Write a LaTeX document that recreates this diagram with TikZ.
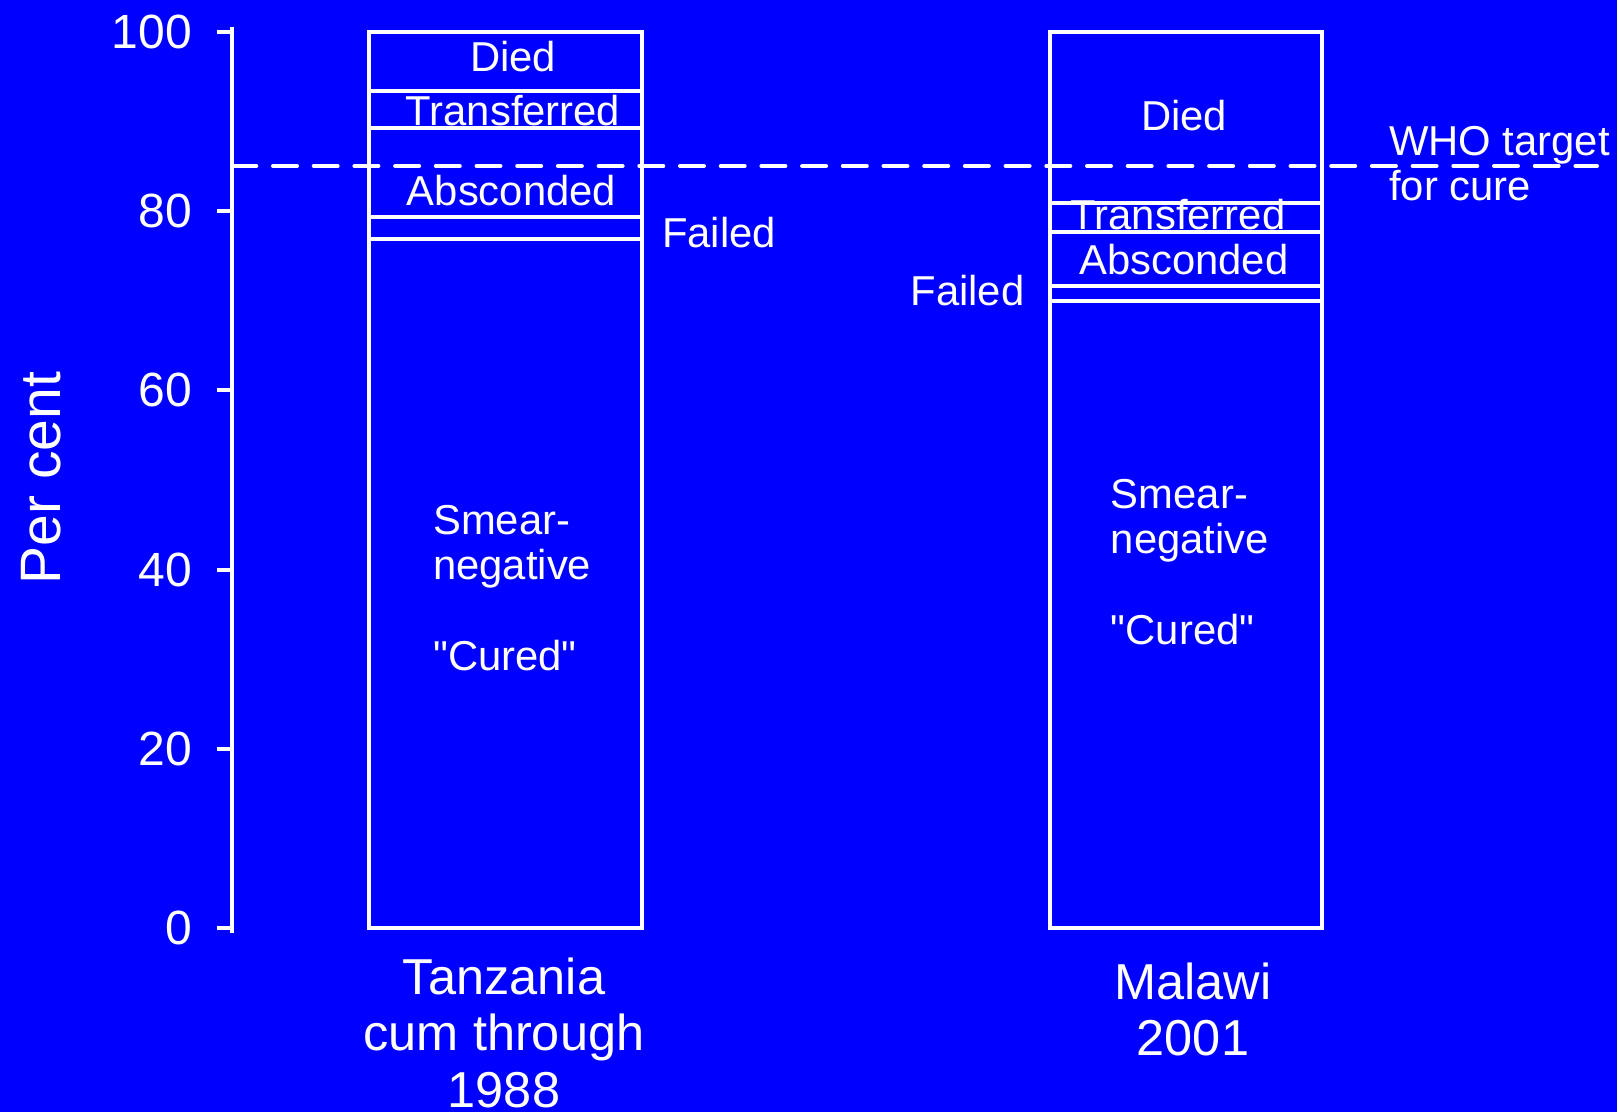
\documentclass[tikz,border=0pt]{standalone}
\usepackage{fontspec}
\newfontfamily\plainsans{Liberation Sans}
\definecolor{bg}{RGB}{0,0,255}
\newcommand\stackL[1]{\vtop{\halign{##\hfil\cr#1\crcr}}}
\newcommand\stackC[1]{\vtop{\halign{\hfil##\hfil\cr#1\crcr}}}
\tikzset{
  wl/.style={draw=white, line width=4pt},
  target/.style={draw=white, line width=4pt, line cap=round, dash pattern=on 24pt off 16.7pt},
  ticklab/.style={text=white, inner sep=0pt, anchor=east, font=\plainsans\fontsize{48}{55}\selectfont},
  seglab/.style={text=white, inner sep=0pt, font=\plainsans\fontsize{41.8}{45.5}\selectfont},
  catlab/.style={text=white, inner sep=0pt, font=\plainsans\fontsize{50.5}{56.5}\selectfont},
  axlab/.style={text=white, inner sep=0pt, font=\plainsans\fontsize{57}{62}\selectfont},
}
\begin{document}
\begin{tikzpicture}[x=1pt,y=-1pt]
\useasboundingbox (0,0) rectangle (1617,1112);
\fill[bg] (0,0) rectangle (1617,1112);

% axis
\coordinate (axtop) at (232.3,27);
\coordinate (axbot) at (232.3,933);
\draw[wl] (axtop) -- (axbot);
\foreach \v/\y in {100/32,80/211.2,60/390.4,40/569.6,20/748.8,0/928}{
  \coordinate (t\v) at (232.3,\y);
  \coordinate (tl\v) at (216.7,\y);
  \draw[wl] (tl\v) -- (t\v);
  \node[ticklab] (lab\v) at (192,\y) {\v};
}
\node[axlab, rotate=90, anchor=base] (ylab) at (60,478) {Per cent};

% Tanzania bar
\draw[wl] (369.2,32) rectangle (641.5,928);
\foreach \y in {90.7,128.3,217,239}{
  \draw[wl] (369.2,\y) -- (641.5,\y);
}
% Malawi bar
\draw[wl] (1050,32) rectangle (1321.5,928);
\foreach \y in {203.3,231.7,285.7,301}{
  \draw[wl] (1050,\y) -- (1321.5,\y);
}

% WHO target line
\coordinate (ws) at (232.3,166);
\coordinate (we) at (1597,166);
\draw[target] (ws) -- (we);

% Tanzania labels
\node[seglab, anchor=base] (tdied) at (513,71.7) {Died};
\node[seglab, anchor=base] (ttr) at (513,125.7) {Transferred};
\node[seglab, anchor=base] (tab) at (511.5,205.7) {Absconded};
\node[seglab, anchor=base west] (tfa) at (662,247.5) {Failed};
\node[seglab, anchor=base west] (tsm) at (433,534) {\stackL{Smear-\cr negative\cr \cr "Cured"}};

% Malawi labels
\node[seglab, anchor=base] (mdied) at (1184,130.7) {Died};
\node[seglab, anchor=base] (mtr) at (1178,229) {Transferred};
\node[seglab, anchor=base] (mab) at (1183.7,274) {Absconded};
\node[seglab, anchor=base east] (mfa) at (1024.5,305.7) {Failed};
\node[seglab, anchor=base west] (msm) at (1110.7,508.3) {\stackL{Smear-\cr negative\cr \cr "Cured"}};

% WHO label
\node[seglab, anchor=base west] (who) at (1389,155) {\stackL{WHO target\cr for cure}};

% category labels
\node[catlab, anchor=base] (ctz) at (504,994) {\stackC{Tanzania\cr cum through\cr 1988}};
\node[catlab, anchor=base] (cmw) at (1193,999) {\stackC{Malawi\cr 2001}};
\end{tikzpicture}
\end{document}
